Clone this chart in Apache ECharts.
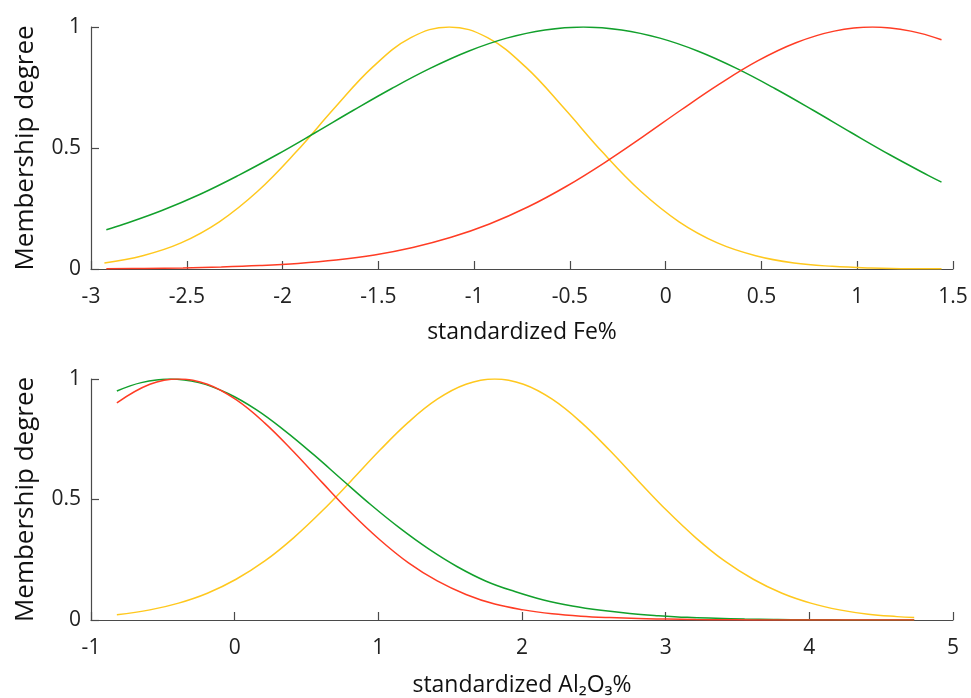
<!DOCTYPE html>
<html>
<head>
    <meta charset='utf-8'>
    <script src='https://cdn.jsdelivr.net/npm/echarts@6/dist/echarts.min.js'></script>
    <style>
        html, body, #main {
            width: 100%;
            height: 100%;
            margin: 0;
            background: #fff;
        }
    </style>
</head>
<body>
<div id='main'></div>
<script>
    // upper panel: standardized Fe%
    var feYellowX = [-2.93, -2.73, -2.53, -2.33, -2.13, -1.93, -1.73, -1.53, -1.33, -1.13, -0.93, -0.73, -0.53, -0.33, -0.13, 0.07, 0.27, 0.47, 0.67, 0.87, 1.07, 1.27, 1.44];
    var feYellow  = [0.025, 0.055, 0.108, 0.195, 0.321, 0.483, 0.664, 0.834, 0.956, 1.000, 0.956, 0.834, 0.664, 0.483, 0.321, 0.195, 0.108, 0.055, 0.025, 0.011, 0.004, 0.001, 0.001];
    var feGreenX  = [-2.92, -2.83, -2.63, -2.43, -2.23, -2.03, -1.83, -1.63, -1.43, -1.23, -1.03, -0.83, -0.63, -0.43, -0.23, -0.03, 0.17, 0.37, 0.57, 0.77, 0.97, 1.17, 1.37, 1.44];
    var feGreen   = [0.162, 0.185, 0.242, 0.309, 0.387, 0.472, 0.563, 0.656, 0.746, 0.829, 0.900, 0.954, 0.988, 1.000, 0.988, 0.954, 0.900, 0.829, 0.746, 0.656, 0.563, 0.472, 0.387, 0.359];
    var feRedX    = [-2.92, -2.72, -2.52, -2.32, -2.12, -1.92, -1.72, -1.52, -1.32, -1.12, -0.92, -0.72, -0.52, -0.32, -0.12, 0.08, 0.28, 0.48, 0.68, 0.88, 1.08, 1.28, 1.44];
    var feRed     = [0.001, 0.002, 0.004, 0.008, 0.014, 0.023, 0.037, 0.058, 0.089, 0.131, 0.186, 0.256, 0.341, 0.439, 0.546, 0.657, 0.764, 0.860, 0.935, 0.983, 1.000, 0.983, 0.947];

    // lower panel: standardized Al2O3%
    var alYellowX = [-0.82, -0.59, -0.39, -0.19, 0.01, 0.21, 0.41, 0.61, 0.81, 1.01, 1.21, 1.41, 1.61, 1.81, 2.01, 2.21, 2.41, 2.61, 2.81, 3.01, 3.21, 3.41, 3.61, 3.81, 4.01, 4.21, 4.41, 4.61, 4.73];
    var alYellow  = [0.022, 0.042, 0.070, 0.111, 0.169, 0.245, 0.341, 0.453, 0.577, 0.704, 0.821, 0.916, 0.978, 1.000, 0.978, 0.916, 0.821, 0.704, 0.577, 0.453, 0.341, 0.245, 0.169, 0.111, 0.070, 0.042, 0.024, 0.014, 0.010];
    var alGreenX  = [-0.82, -0.65, -0.45, -0.25, -0.05, 0.15, 0.35, 0.55, 0.75, 0.95, 1.15, 1.35, 1.55, 1.75, 1.95, 2.15, 2.35, 2.55, 2.75, 2.95, 3.15, 3.35, 3.55, 3.75, 3.95, 4.15, 4.35, 4.55, 4.73];
    var alGreen   = [0.950, 0.985, 1.000, 0.985, 0.941, 0.873, 0.785, 0.686, 0.581, 0.477, 0.381, 0.295, 0.221, 0.161, 0.118, 0.083, 0.058, 0.040, 0.027, 0.018, 0.011, 0.007, 0.004, 0.002, 0.001, 0.001, 0, 0, 0];
    var alRedX    = [-0.82, -0.59, -0.39, -0.19, 0.01, 0.21, 0.41, 0.61, 0.81, 1.01, 1.21, 1.41, 1.61, 1.81, 2.01, 2.21, 2.41, 2.61, 2.81, 3.01, 3.21, 3.41, 3.61, 3.81, 4.01, 4.21, 4.41, 4.61, 4.73];
    var alRed     = [0.901, 0.978, 1.000, 0.978, 0.914, 0.817, 0.698, 0.570, 0.445, 0.333, 0.237, 0.162, 0.106, 0.066, 0.042, 0.026, 0.016, 0.010, 0.006, 0.004, 0.002, 0.001, 0, 0, 0, 0, 0, 0, 0];

    var yTicks = [0, 0.5, 1];

    var YELLOW = '#ffc81e', GREEN = '#12a02c', RED = '#ff3c24', AXIS = '#4a4a4a';
    var FONT = 'Open Sans';

    function pairs(xs, ys) {
        var res = [];
        for (var i = 0; i < xs.length; i++) {
            res.push([xs[i], ys[i]]);
        }
        return res;
    }

    function curve(name, xi, xs, ys, color) {
        return {
            name: name,
            type: 'line',
            xAxisIndex: xi,
            yAxisIndex: xi,
            data: pairs(xs, ys),
            showSymbol: false,
            smooth: 0.4,
            lineStyle: { color: color, width: 1.5 },
            itemStyle: { color: color },
            z: 3
        };
    }

    function xAxisOf(idx, min, max, step, name, gap) {
        return {
            type: 'value',
            gridIndex: idx,
            min: min, max: max, interval: step,
            name: name,
            nameLocation: 'middle',
            nameGap: gap,
            nameTextStyle: { color: '#111', fontSize: 23, fontFamily: FONT },
            axisLine: { show: true, onZero: false, lineStyle: { color: AXIS, width: 1.2 } },
            axisTick: { show: true, inside: true, length: 8, lineStyle: { color: AXIS, width: 1.2 } },
            axisLabel: { color: '#222', fontSize: 21, fontFamily: FONT, margin: 18 },
            splitLine: { show: false }
        };
    }

    function yAxisOf(idx) {
        return {
            type: 'value',
            gridIndex: idx,
            min: yTicks[0], max: yTicks[yTicks.length - 1], interval: 0.5,
            name: 'Membership degree',
            nameLocation: 'middle',
            nameGap: 52,
            nameTextStyle: { color: '#111', fontSize: 26, fontFamily: FONT },
            axisLine: { show: true, onZero: false, lineStyle: { color: AXIS, width: 1.2 } },
            axisTick: { show: true, inside: true, length: 8, lineStyle: { color: AXIS, width: 1.2 } },
            axisLabel: { color: '#222', fontSize: 21, fontFamily: FONT, margin: 10 },
            splitLine: { show: false }
        };
    }

    var myChart = echarts.init(document.getElementById('main'));
    myChart.setOption({
        backgroundColor: '#fff',
        animation: false,
        grid: [
            { left: 91, right: 18, top: 27, height: 242 },
            { left: 91, right: 18, top: 379, height: 242 }
        ],
        xAxis: [
            xAxisOf(0, -3, 1.5, 0.5, 'standardized Fe%', 52),
            xAxisOf(1, -1, 5, 1, 'standardized Al\u2082O\u2083%', 54)
        ],
        yAxis: [yAxisOf(0), yAxisOf(1)],
        series: [
            curve('Fe yellow', 0, feYellowX, feYellow, YELLOW),
            curve('Fe green', 0, feGreenX, feGreen, GREEN),
            curve('Fe red', 0, feRedX, feRed, RED),
            curve('Al yellow', 1, alYellowX, alYellow, YELLOW),
            curve('Al green', 1, alGreenX, alGreen, GREEN),
            curve('Al red', 1, alRedX, alRed, RED)
        ]
    });
</script>
</body>
</html>
